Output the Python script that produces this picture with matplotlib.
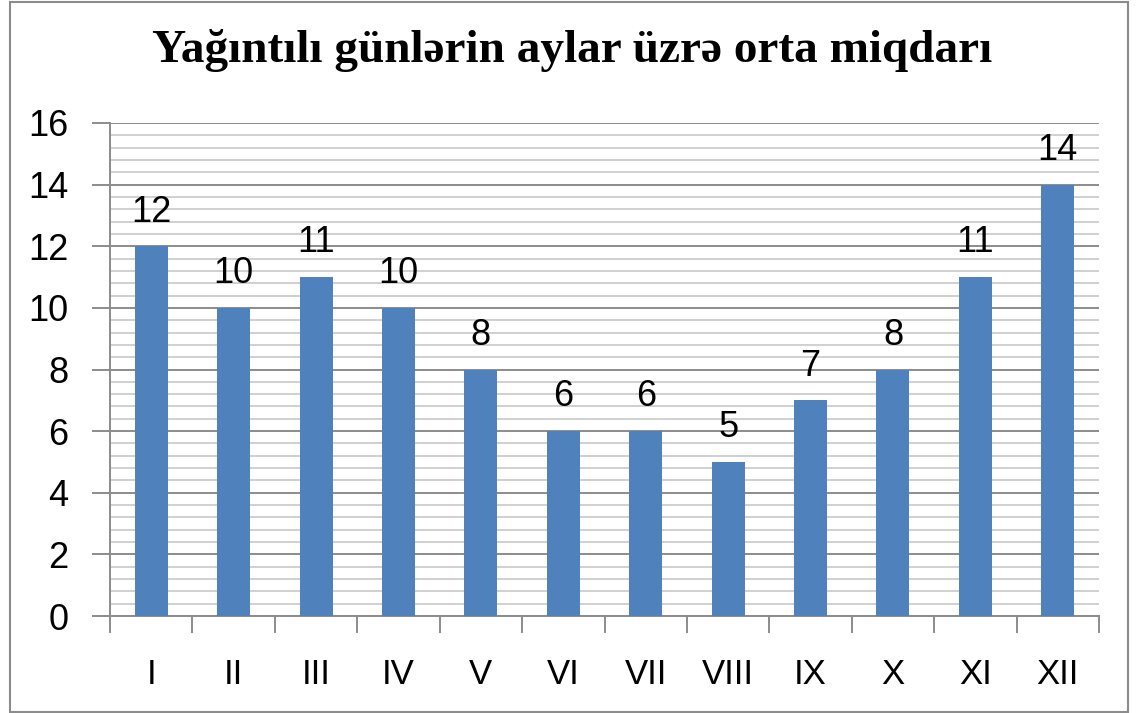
import matplotlib
matplotlib.use("Agg")
import matplotlib.pyplot as plt
from matplotlib.ticker import MultipleLocator
from matplotlib.patches import Rectangle

months = ["I", "II", "III", "IV", "V", "VI", "VII", "VIII", "IX", "X", "XI", "XII"]
days = [12, 10, 11, 10, 8, 6, 6, 5, 7, 8, 11, 14]
title = "Yağıntılı günlərin aylar üzrə orta miqdarı"

W, H = 1136, 713
fig = plt.figure(figsize=(W / 100, H / 100), dpi=100)
ax = fig.add_axes([110 / W, 1 - 616 / H, (1099 - 110) / W, (616 - 123) / H])

x = list(range(len(months)))
bars = ax.bar(x, days, width=0.4, color="#4F81BD", zorder=3)
for xi, v in zip(x, days):
    ax.annotate(str(v), (xi, v), xytext=(0, 12), textcoords="offset points",
                ha="center", va="bottom", fontsize=26,
                family="Liberation Sans", color="black")

ax.set_xlim(-0.5, len(months) - 0.5)
ax.set_ylim(0, 16)
ax.yaxis.set_major_locator(MultipleLocator(2))
ax.yaxis.set_minor_locator(MultipleLocator(0.4))
ax.grid(axis="y", which="major", color="#8c8c8c", linewidth=1.4, zorder=1)
ax.grid(axis="y", which="minor", color="#c8c8c8", linewidth=1.2, zorder=1)
ax.set_xticks(x)
ax.set_xticklabels(months, family="Liberation Sans", fontsize=25)
ax.set_xticks([i - 0.5 for i in range(len(months) + 1)], minor=True)
ax.tick_params(axis="x", which="major", length=0, pad=30)
ax.tick_params(axis="x", which="minor", length=12, width=1.4, color="#8c8c8c", direction="out")
ax.tick_params(axis="y", which="major", length=13, width=1.4, color="#8c8c8c", pad=17,
               labelsize=26)
ax.tick_params(axis="y", which="minor", length=0)
for lbl in ax.get_yticklabels():
    lbl.set_family("Liberation Sans")
for s in ["top", "right"]:
    ax.spines[s].set_visible(False)
for s in ["left", "bottom"]:
    ax.spines[s].set_color("#8c8c8c")
    ax.spines[s].set_linewidth(1.4)
ax.spines["left"].set_zorder(4)

fig.text(572 / W, 1 - 50 / H, title, ha="center", va="center",
         fontsize=34, fontweight="bold", family="Liberation Serif")

# outer chart border
fig.patches.append(Rectangle((10 / W, 1 / H), (1128 - 10) / W, (711 - 1) / H,
                             transform=fig.transFigure, fill=False,
                             edgecolor="#8c8c8c", linewidth=1.5))

fig.savefig("out.png", dpi=100, facecolor="white")
